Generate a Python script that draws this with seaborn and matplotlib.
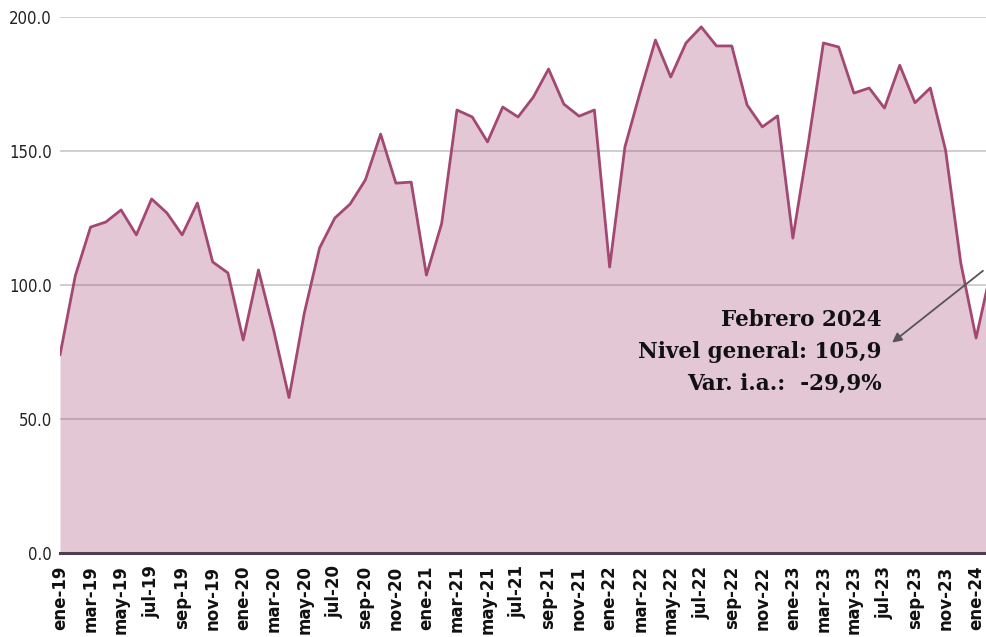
import matplotlib
matplotlib.use("Agg")
import matplotlib.pyplot as plt
import seaborn as sns
import pandas as pd

# monthly index, ene-19 .. feb-24
values = [
    73.9, 103.4, 121.6, 123.5, 128.0, 118.7, 132.1, 126.9, 118.7, 130.6, 108.6, 104.5,   # 2019
    79.5, 105.6, 83.0, 58.0, 89.5, 113.8, 125.0, 130.2, 139.2, 156.3, 138.0, 138.4,      # 2020
    103.7, 123.0, 165.3, 162.7, 153.4, 166.4, 162.7, 170.1, 180.6, 167.5, 163.0, 165.3,  # 2021
    106.7, 151.5, 172.0, 191.4, 177.6, 190.3, 196.3, 189.2, 189.2, 167.2, 159.0, 163.1,  # 2022
    117.5, 152.5, 190.3, 188.8, 171.6, 173.5, 166.0, 182.0, 168.0, 173.5, 150.4, 108.2,  # 2023
    80.2, 105.9,                                                                          # 2024
]
tick_labels = [
    "ene-19", "mar-19", "may-19", "jul-19", "sep-19", "nov-19",
    "ene-20", "mar-20", "may-20", "jul-20", "sep-20", "nov-20",
    "ene-21", "mar-21", "may-21", "jul-21", "sep-21", "nov-21",
    "ene-22", "mar-22", "may-22", "jul-22", "sep-22", "nov-22",
    "ene-23", "mar-23", "may-23", "jul-23", "sep-23", "nov-23",
    "ene-24",
]
y_ticks = [0, 50, 100, 150, 200]

note_lines = ["Febrero 2024", "Nivel general: 105,9", "Var. i.a.:  -29,9%"]

LINE = "#a34873"

df = pd.DataFrame({"mes": range(len(values)), "nivel": values})

sns.set_style("white")

fig = plt.figure(figsize=(9.86, 6.37), dpi=100)
ax = fig.add_axes([60 / 986, (637 - 553) / 637, 1 - 60 / 986, (553 - 17) / 637])

# gridlines under the semi-transparent fill
for yv in y_ticks[1:]:
    ax.axhline(yv, color="#cfcfcf", lw=1.4, zorder=0)

ax.fill_between(df["mes"], df["nivel"], 0, color=LINE, alpha=0.3, lw=0, zorder=1)
sns.lineplot(data=df, x="mes", y="nivel", color=LINE, lw=2.0, ax=ax, zorder=2)

ax.set_xlim(0, 60.65)
ax.set_ylim(0, 200)

ax.set_xticks(range(0, len(values), 2))
ax.set_xticklabels(tick_labels, rotation=90, fontsize=12, fontweight="bold",
                   family="DejaVu Sans", color="#111111")
ax.set_yticks(y_ticks)
ax.set_yticklabels([f"{v:.1f}" for v in y_ticks], fontsize=12,
                   family="DejaVu Sans", fontstretch="condensed", color="#222222")
ax.tick_params(axis="both", length=0, pad=6)
ax.tick_params(axis="x", pad=9)
ax.set_xlabel("")
ax.set_ylabel("")

for s in ["top", "right", "left"]:
    ax.spines[s].set_visible(False)
ax.spines["bottom"].set_color("#4a4050")
ax.spines["bottom"].set_linewidth(2.2)
ax.spines["bottom"].set_zorder(3)

# annotation
ax.text(53.8, 75, "\n".join(note_lines), ha="right", va="center",
        fontsize=15.5, fontweight="bold", family="DejaVu Serif",
        color="#111111", linespacing=1.6, zorder=4)
ax.annotate("", xy=(54.5, 78.5), xytext=(60.45, 105.3),
            arrowprops=dict(arrowstyle="-|>", color="#555555", lw=1.3,
                            mutation_scale=14, shrinkA=0, shrinkB=0),
            zorder=4)

fig.savefig("out.png", dpi=100)
